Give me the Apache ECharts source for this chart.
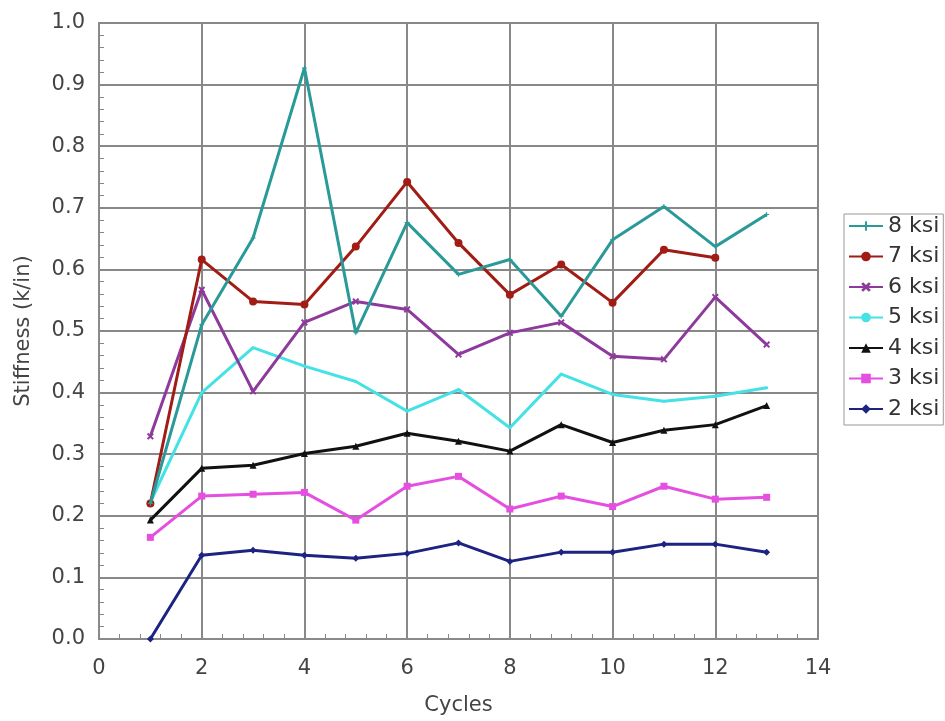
<!DOCTYPE html>
<html>
<head>
<meta charset="utf-8">
<script src="https://cdn.jsdelivr.net/npm/echarts@6/dist/echarts.min.js"></script>
<style>
  html, body { margin: 0; padding: 0; background: #fff; }
  #chart { width: 945px; height: 721px; }
</style>
</head>
<body>
<div id="chart"></div>
<script>
// 数据
var cycles = [1, 2, 3, 4, 5, 6, 7, 8, 9, 10, 11, 12, 13];
var seriesNames = ['8 ksi', '7 ksi', '6 ksi', '5 ksi', '4 ksi', '3 ksi', '2 ksi'];
var ksi8 = [0.22, 0.51, 0.651, 0.927, 0.497, 0.676, 0.592, 0.616, 0.524, 0.648, 0.702, 0.637, 0.689];
var ksi7 = [0.22, 0.616, 0.548, 0.543, 0.637, 0.742, 0.643, 0.559, 0.608, 0.546, 0.632, 0.619];
var ksi6 = [0.329, 0.567, 0.402, 0.514, 0.548, 0.535, 0.462, 0.497, 0.514, 0.459, 0.454, 0.555, 0.478];
var ksi5 = [0.222, 0.400, 0.473, 0.443, 0.418, 0.370, 0.405, 0.343, 0.430, 0.397, 0.386, 0.394, 0.408];
var ksi4 = [0.193, 0.277, 0.282, 0.301, 0.313, 0.334, 0.321, 0.305, 0.348, 0.319, 0.339, 0.348, 0.379];
var ksi3 = [0.165, 0.232, 0.235, 0.238, 0.193, 0.248, 0.264, 0.211, 0.232, 0.215, 0.248, 0.227, 0.230];
var ksi2 = [0.0, 0.136, 0.144, 0.136, 0.131, 0.139, 0.156, 0.126, 0.141, 0.141, 0.154, 0.154, 0.141];

(function () {
    var myChart = echarts.init(document.getElementById('chart'));

    function pairs(arr) {
        return arr.map(function (v, i) { return [cycles[i], v]; });
    }

    // 叉号和加号的标记
    var crossPath = 'path://M0,2L2,0L5,3L8,0L10,2L7,5L10,8L8,10L5,7L2,10L0,8L3,5Z';
    var plusPath = 'path://M4,0L6,0L6,4L10,4L10,6L6,6L6,10L4,10L4,6L0,6L0,4L4,4Z';

    var allData = [ksi8, ksi7, ksi6, ksi5, ksi4, ksi3, ksi2];
    var colors = ['#2a9a98', '#a01c14', '#8e3a9c', '#44e2e6', '#111111', '#e44fe0', '#1c2380'];
    var symbols = [plusPath, 'circle', crossPath, 'circle', 'triangle', 'rect', 'diamond'];
    var sizes = [5, 8, 7, 3, 7, 7, 7];

    var series = seriesNames.map(function (name, k) {
        return {
            name: name,
            type: 'line',
            data: pairs(allData[k]),
            symbol: symbols[k],
            symbolSize: sizes[k],
            showSymbol: true,
            color: colors[k],
            lineStyle: { width: 3, color: colors[k] },
            itemStyle: { color: colors[k] },
            z: 10 - k
        };
    });

    var font = 'DejaVu Sans, sans-serif';
    var axisText = { color: '#444', fontSize: 21, fontFamily: font };

    var option = {
        animation: false,
        backgroundColor: '#fff',
        grid: {
            left: 99, right: 127, top: 23, bottom: 81,
            show: true, borderColor: '#8a8a8a', borderWidth: 2
        },
        legend: {
            orient: 'vertical',
            left: 844,
            top: 214,
            padding: [1, 4, 5, 4],
            borderColor: '#999',
            borderWidth: 1,
            itemWidth: 34,
            itemHeight: 12,
            itemGap: 8.5,
            data: seriesNames,
            textStyle: { color: '#333', fontSize: 22, lineHeight: 22, fontFamily: font }
        },
        xAxis: {
            type: 'value',
            min: 0, max: 14, interval: 2,
            name: 'Cycles',
            nameLocation: 'middle',
            nameGap: 56,
            nameTextStyle: axisText,
            axisLine: { lineStyle: { color: '#8a8a8a', width: 2 } },
            axisTick: { show: true, inside: true, length: 5, lineStyle: { color: '#888' } },
            minorTick: { show: true, splitNumber: 5, length: 5, lineStyle: { color: '#888' } },
            axisLabel: Object.assign({ margin: 19 }, axisText),
            splitLine: { lineStyle: { color: '#888', width: 2 } }
        },
        yAxis: {
            type: 'value',
            min: 0, max: 1, interval: 0.1,
            name: 'Stiffness (k/in)',
            nameLocation: 'middle',
            nameGap: 65,
            nameTextStyle: axisText,
            axisLine: { lineStyle: { color: '#8a8a8a', width: 2 } },
            axisTick: { show: true, inside: true, length: 5, lineStyle: { color: '#888' } },
            minorTick: { show: true, splitNumber: 5, length: 5, lineStyle: { color: '#888' } },
            axisLabel: Object.assign({ margin: 14, formatter: function (v) { return v.toFixed(1); } }, axisText),
            splitLine: { lineStyle: { color: '#888', width: 2 } }
        },
        series: series
    };

    myChart.setOption(option);
})();
</script>
</body>
</html>
